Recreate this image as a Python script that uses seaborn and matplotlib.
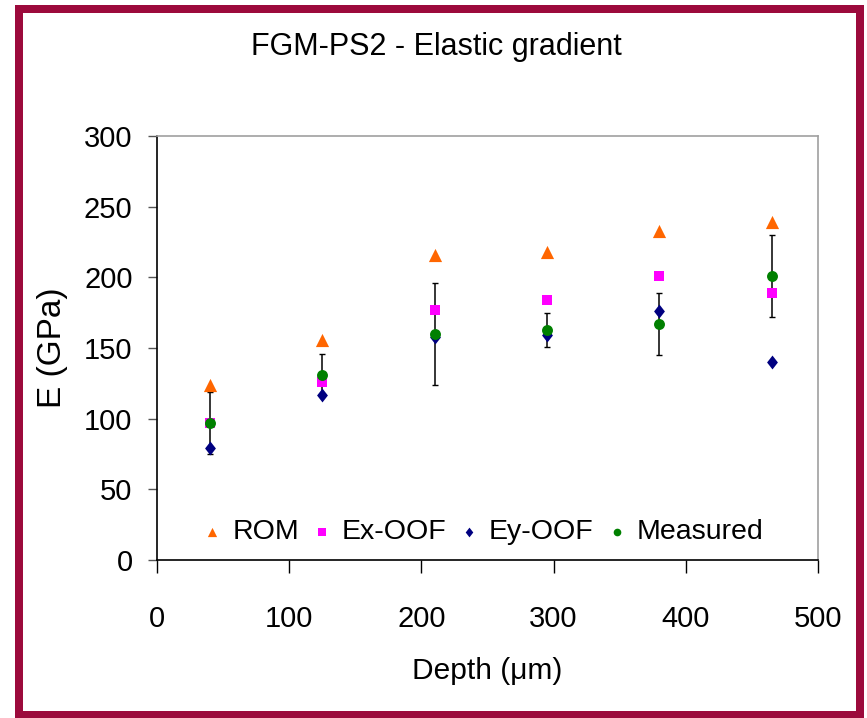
import matplotlib
matplotlib.use("Agg")
import matplotlib.pyplot as plt
import matplotlib.patches as patches
from matplotlib import font_manager
import pandas as pd
import seaborn as sns

# Data
depth = [40, 125, 210, 295, 380, 465]
rom = [124, 156, 216, 218, 233, 239]
ex_oof = [97, 126, 177, 184, 201, 189]
ey_oof = [79, 117, 158, 159, 176, 140]
measured = [97, 131, 160, 163, 167, 201]
measured_err = [22, 15, 36, 12, 22, 29]

x_ticks = [0, 100, 200, 300, 400, 500]
y_ticks = [0, 50, 100, 150, 200, 250, 300]

df = pd.DataFrame({"depth": depth, "ROM": rom, "Ex-OOF": ex_oof,
                   "Ey-OOF": ey_oof, "Measured": measured, "err": measured_err})

sns.set_style("white")
plt.rcParams["font.family"] = ["Liberation Sans", "DejaVu Sans"]
plt.rcParams["text.color"] = "black"
plt.rcParams["axes.labelcolor"] = "black"

# the legend text in the original is a condensed Arial
installed = {f.name for f in font_manager.fontManager.ttflist}
if "Liberation Sans Narrow" in installed:
    leg_font = {"family": ["Liberation Sans Narrow", "DejaVu Sans"], "size": 25}
    leg_kw = dict(handlelength=0.5, handletextpad=0.27, columnspacing=0.4)
else:
    leg_font = {"family": ["Liberation Sans", "DejaVu Sans"], "size": 20.5}
    leg_kw = dict(handlelength=0.6, handletextpad=0.4, columnspacing=0.5)

fig = plt.figure(figsize=(8.67, 7.18), dpi=100)
ax = fig.add_axes([0.181, 0.22, 0.7625, 0.5906])

# error bars go underneath the markers
ax.errorbar(df["depth"], df["Measured"], yerr=df["err"], fmt="none",
            ecolor="black", elinewidth=1.1, capsize=2.5, capthick=1.0, zorder=1)

diamond = [(0, 1), (0.78, 0), (0, -1), (-0.78, 0)]
sns.scatterplot(data=df, x="depth", y="ROM", marker="^", color="#FF6600",
                s=90, linewidth=0, label="ROM", ax=ax, zorder=3)
sns.scatterplot(data=df, x="depth", y="Ex-OOF", marker="s", color="#FF00FF",
                s=62, linewidth=0, label="Ex-OOF", ax=ax, zorder=3)
sns.scatterplot(data=df, x="depth", y="Ey-OOF", marker=diamond, color="#000080",
                s=100, linewidth=0, label="Ey-OOF", ax=ax, zorder=3)
sns.scatterplot(data=df, x="depth", y="Measured", marker="o", color="#008000",
                s=62, linewidth=0, label="Measured", ax=ax, zorder=4)

ax.set_xlim(0, 500)
ax.set_ylim(0, 300)
ax.set_xticks(x_ticks)
ax.set_yticks(y_ticks)
ax.tick_params(axis="x", direction="out", length=9.4, width=1, color="black",
               labelcolor="black", pad=23, labelsize=21, bottom=True)
ax.tick_params(axis="y", direction="out", length=6.5, width=1, color="#555555",
               labelcolor="black", pad=11, labelsize=21, left=True)

for side in ["top", "right"]:
    ax.spines[side].set_color("#A0A0A0")
    ax.spines[side].set_linewidth(1.2)
for side in ["left", "bottom"]:
    ax.spines[side].set_color("black")
    ax.spines[side].set_linewidth(1.2)

ax.set_xlabel("Depth (\u03bcm)", fontsize=21.5)
ax.xaxis.set_label_coords(0.5, -0.229)
ax.set_ylabel("E (GPa)", fontsize=24)
ax.yaxis.set_label_coords(-0.135, 0.5)

ax.legend(loc="center", bbox_to_anchor=(0.494, 0.065), ncol=4, frameon=False,
          prop=leg_font, markerscale=0.7, borderpad=0, borderaxespad=0, **leg_kw)

fig.text(436 / 867, 1 - 47 / 718, "FGM-PS2 - Elastic gradient",
         ha="center", va="center", fontsize=22)

# crimson frame around the whole chart
frame = patches.Rectangle((19 / 867, 1 - 714.5 / 718), (860 - 19) / 867,
                          (714.5 - 9) / 718, transform=fig.transFigure,
                          fill=False, edgecolor="#9C0A3C", linewidth=5.76,
                          zorder=10)
fig.patches.append(frame)

fig.savefig("out.png", dpi=100)
